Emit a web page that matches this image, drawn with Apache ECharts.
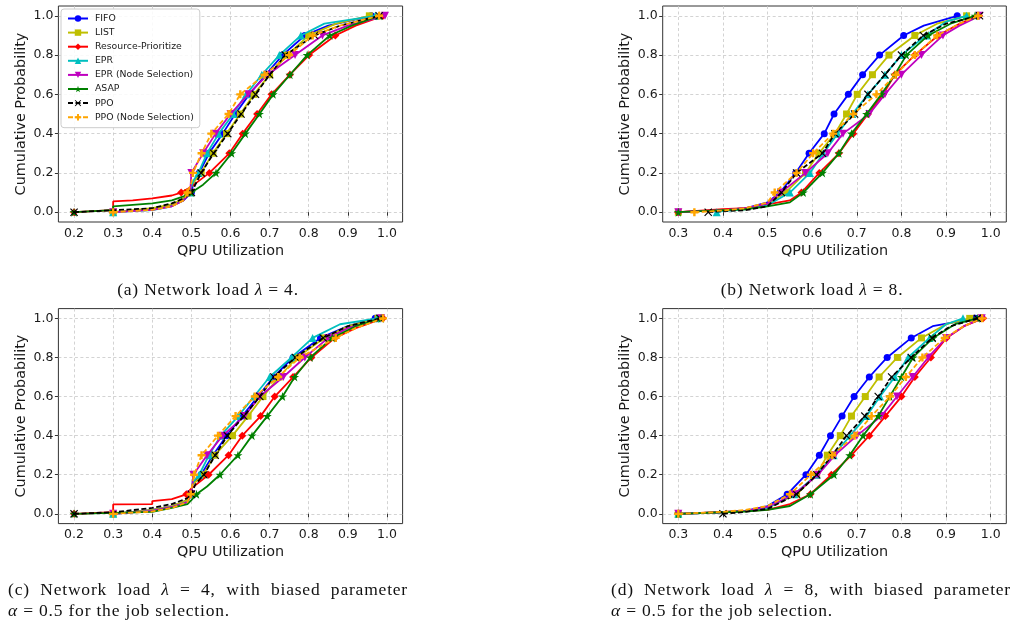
<!DOCTYPE html>
<html>
<head>
<meta charset="UTF-8">
<script src="https://cdn.jsdelivr.net/npm/echarts@6/dist/echarts.min.js"></script>
<style>
    body { margin: 0; padding: 0; background: #fff; }
    #main { position: absolute; left: 0; top: 0; width: 1018px; height: 628px; }
    .cap { position: absolute; width: 400px; font-family: "Liberation Serif", serif; font-size: 17.5px; line-height: 21px; color: #111; letter-spacing: 0.8px; }
    .cap.c { text-align: center; }
    .cap .j { text-align: justify; text-align-last: justify; }
    .cap i { font-style: italic; }
</style>
</head>
<body>
<div id="main"></div>
<div class="cap c" style="left:8px;top:279px;">(a) Network load <i>λ</i> = 4.</div>
<div class="cap c" style="left:612px;top:279px;">(b) Network load <i>λ</i> = 8.</div>
<div class="cap" style="left:8px;top:579px;"><div class="j">(c) Network load <i>λ</i> = 4, with biased parameter</div><div><i>α</i> = 0.5 for the job selection.</div></div>
<div class="cap" style="left:611px;top:579px;"><div class="j">(d) Network load <i>λ</i> = 8, with biased parameter</div><div><i>α</i> = 0.5 for the job selection.</div></div>
<script>
    var names = ['FIFO', 'LIST', 'Resource-Prioritize', 'EPR', 'EPR (Node Selection)', 'ASAP', 'PPO', 'PPO (Node Selection)']
    var colors = ['#0000ff', '#bfbf00', '#ff0000', '#00bfbf', '#bf00bf', '#008000', '#000000', '#ffa500']
    var xTicks1 = [0.2, 0.3, 0.4, 0.5, 0.6, 0.7, 0.8, 0.9, 1.0]
    var xTicks2 = [0.3, 0.4, 0.5, 0.6, 0.7, 0.8, 0.9, 1.0]
    var yTicks = [0, 0.2, 0.4, 0.6, 0.8, 1.0]

    // (a) lambda = 4 : [utilization, cumulative probability]
    var lam4 = [
        [[0.3,0],[0.3,0.008],[0.4,0.015],[0.45,0.035],[0.48,0.06],[0.5,0.1],[0.505,0.15],[0.52,0.2],[0.545,0.3],[0.58,0.4],[0.612,0.5],[0.648,0.6],[0.69,0.7],[0.733,0.8],[0.79,0.9],[0.85,0.95],[0.96,1.0]],
        [[0.3,0],[0.3,0.008],[0.4,0.02],[0.45,0.04],[0.48,0.07],[0.49,0.1],[0.505,0.15],[0.525,0.2],[0.555,0.3],[0.59,0.4],[0.625,0.5],[0.66,0.6],[0.7,0.7],[0.745,0.8],[0.8,0.9],[0.87,0.96],[0.955,1.0]],
        [[0.2,0],[0.3,0.01],[0.3,0.055],[0.35,0.06],[0.4,0.07],[0.45,0.085],[0.474,0.1],[0.5,0.13],[0.546,0.2],[0.597,0.3],[0.631,0.4],[0.668,0.5],[0.705,0.6],[0.752,0.7],[0.801,0.8],[0.868,0.9],[0.92,0.95],[0.99,1.0]],
        [[0.3,0],[0.3,0.005],[0.4,0.01],[0.45,0.03],[0.48,0.06],[0.495,0.1],[0.505,0.16],[0.518,0.2],[0.54,0.3],[0.57,0.4],[0.607,0.5],[0.64,0.6],[0.68,0.7],[0.725,0.8],[0.78,0.9],[0.84,0.96],[0.97,1.0]],
        [[0.3,0],[0.3,0.006],[0.4,0.012],[0.45,0.03],[0.48,0.06],[0.497,0.1],[0.5,0.2],[0.53,0.3],[0.562,0.4],[0.6,0.5],[0.645,0.6],[0.695,0.7],[0.765,0.8],[0.835,0.9],[0.9,0.95],[0.995,1.0]],
        [[0.2,0],[0.3,0.01],[0.3,0.03],[0.4,0.045],[0.45,0.06],[0.48,0.08],[0.5,0.1],[0.53,0.14],[0.563,0.2],[0.603,0.3],[0.638,0.4],[0.674,0.5],[0.709,0.6],[0.752,0.7],[0.796,0.8],[0.854,0.9],[0.91,0.95],[0.98,1.0]],
        [[0.2,0],[0.3,0.01],[0.3,0.015],[0.4,0.02],[0.45,0.045],[0.48,0.07],[0.5,0.1],[0.51,0.14],[0.525,0.2],[0.557,0.3],[0.593,0.4],[0.627,0.5],[0.664,0.6],[0.7,0.7],[0.74,0.8],[0.815,0.9],[0.88,0.95],[0.98,1.0]],
        [[0.3,0],[0.3,0.006],[0.4,0.012],[0.45,0.03],[0.48,0.06],[0.49,0.1],[0.5,0.15],[0.504,0.2],[0.526,0.3],[0.551,0.4],[0.595,0.5],[0.625,0.6],[0.687,0.7],[0.75,0.8],[0.81,0.9],[0.88,0.95],[0.98,1.0]]
    ]

    // (b) lambda = 8
    var lam8 = [
        [[0.3,0],[0.3,0.005],[0.4,0.01],[0.45,0.02],[0.5,0.05],[0.528,0.1],[0.563,0.2],[0.593,0.3],[0.627,0.4],[0.649,0.5],[0.681,0.6],[0.713,0.7],[0.751,0.8],[0.805,0.9],[0.85,0.95],[0.925,1.0]],
        [[0.3,0],[0.3,0.005],[0.4,0.01],[0.45,0.02],[0.5,0.04],[0.54,0.1],[0.585,0.2],[0.615,0.3],[0.651,0.4],[0.677,0.5],[0.701,0.6],[0.735,0.7],[0.772,0.8],[0.83,0.9],[0.88,0.96],[0.946,1.0]],
        [[0.3,0],[0.3,0.008],[0.4,0.015],[0.45,0.02],[0.5,0.04],[0.55,0.06],[0.576,0.1],[0.616,0.2],[0.66,0.3],[0.692,0.4],[0.725,0.5],[0.759,0.6],[0.785,0.7],[0.83,0.8],[0.882,0.9],[0.93,0.96],[0.974,1.0]],
        [[0.386,0],[0.4,0.005],[0.45,0.015],[0.5,0.035],[0.55,0.1],[0.595,0.2],[0.625,0.3],[0.657,0.4],[0.69,0.5],[0.725,0.6],[0.763,0.7],[0.8,0.8],[0.855,0.9],[0.9,0.97],[0.946,1.0]],
        [[0.3,0],[0.3,0.005],[0.4,0.01],[0.45,0.02],[0.5,0.045],[0.53,0.1],[0.585,0.2],[0.635,0.3],[0.669,0.4],[0.728,0.5],[0.763,0.6],[0.8,0.7],[0.845,0.8],[0.893,0.9],[0.93,0.95],[0.975,1.0]],
        [[0.3,0],[0.3,0.005],[0.4,0.01],[0.45,0.015],[0.5,0.03],[0.55,0.05],[0.58,0.1],[0.623,0.2],[0.66,0.3],[0.688,0.4],[0.722,0.5],[0.755,0.6],[0.785,0.7],[0.811,0.8],[0.86,0.9],[0.91,0.96],[0.965,1.0]],
        [[0.367,0],[0.4,0.005],[0.45,0.01],[0.5,0.03],[0.531,0.1],[0.565,0.2],[0.623,0.3],[0.651,0.4],[0.695,0.5],[0.725,0.6],[0.763,0.7],[0.8,0.8],[0.849,0.9],[0.9,0.96],[0.975,1.0]],
        [[0.336,0],[0.4,0.008],[0.45,0.02],[0.5,0.05],[0.516,0.1],[0.565,0.2],[0.602,0.3],[0.647,0.4],[0.692,0.5],[0.744,0.6],[0.787,0.7],[0.83,0.8],[0.88,0.9],[0.93,0.96],[0.972,1.0]]
    ]

    // (c) lambda = 4, alpha = 0.5
    var lam4b = [
        [[0.3,0],[0.3,0.008],[0.4,0.02],[0.45,0.04],[0.49,0.07],[0.5,0.1],[0.502,0.15],[0.525,0.2],[0.555,0.3],[0.59,0.4],[0.63,0.5],[0.67,0.6],[0.71,0.7],[0.76,0.8],[0.83,0.9],[0.9,0.96],[0.97,1.0]],
        [[0.3,0],[0.3,0.008],[0.4,0.02],[0.45,0.04],[0.49,0.07],[0.5,0.1],[0.503,0.15],[0.53,0.2],[0.56,0.3],[0.605,0.4],[0.645,0.5],[0.683,0.6],[0.724,0.7],[0.77,0.8],[0.84,0.9],[0.9,0.96],[0.977,1.0]],
        [[0.2,0],[0.3,0.008],[0.3,0.048],[0.4,0.05],[0.4,0.065],[0.45,0.075],[0.487,0.1],[0.5,0.13],[0.544,0.2],[0.595,0.3],[0.63,0.4],[0.677,0.5],[0.713,0.6],[0.76,0.7],[0.807,0.8],[0.867,0.9],[0.92,0.95],[0.99,1.0]],
        [[0.3,0],[0.3,0.006],[0.4,0.015],[0.45,0.035],[0.49,0.06],[0.5,0.1],[0.503,0.16],[0.52,0.2],[0.545,0.3],[0.575,0.4],[0.62,0.5],[0.66,0.6],[0.7,0.7],[0.756,0.8],[0.81,0.9],[0.88,0.97],[0.975,1.0]],
        [[0.3,0],[0.3,0.006],[0.4,0.015],[0.45,0.035],[0.49,0.06],[0.5,0.1],[0.505,0.2],[0.54,0.3],[0.58,0.4],[0.636,0.5],[0.675,0.6],[0.735,0.7],[0.79,0.8],[0.85,0.9],[0.9,0.95],[0.985,1.0]],
        [[0.2,0],[0.3,0.005],[0.4,0.01],[0.45,0.03],[0.49,0.05],[0.5,0.07],[0.513,0.1],[0.54,0.14],[0.573,0.2],[0.619,0.3],[0.655,0.4],[0.694,0.5],[0.733,0.6],[0.764,0.7],[0.804,0.8],[0.86,0.9],[0.92,0.96],[0.985,1.0]],
        [[0.2,0],[0.3,0.008],[0.3,0.012],[0.4,0.03],[0.45,0.05],[0.49,0.08],[0.5,0.1],[0.51,0.15],[0.532,0.2],[0.561,0.3],[0.592,0.4],[0.634,0.5],[0.675,0.6],[0.711,0.7],[0.766,0.8],[0.837,0.9],[0.9,0.96],[0.982,1.0]],
        [[0.3,0],[0.3,0.005],[0.4,0.012],[0.45,0.03],[0.49,0.06],[0.498,0.1],[0.507,0.2],[0.526,0.3],[0.568,0.4],[0.613,0.5],[0.662,0.6],[0.722,0.7],[0.777,0.8],[0.869,0.9],[0.92,0.95],[0.99,1.0]]
    ]

    // (d) lambda = 8, alpha = 0.5
    var lam8b = [
        [[0.3,0],[0.3,0.004],[0.4,0.008],[0.45,0.015],[0.5,0.04],[0.544,0.1],[0.586,0.2],[0.616,0.3],[0.641,0.4],[0.667,0.5],[0.694,0.6],[0.728,0.7],[0.768,0.8],[0.822,0.9],[0.87,0.96],[0.966,1.0]],
        [[0.3,0],[0.3,0.004],[0.4,0.008],[0.45,0.015],[0.5,0.03],[0.565,0.1],[0.61,0.2],[0.634,0.3],[0.663,0.4],[0.688,0.5],[0.719,0.6],[0.75,0.7],[0.791,0.8],[0.845,0.9],[0.9,0.97],[0.953,1.0]],
        [[0.3,0],[0.3,0.005],[0.4,0.01],[0.45,0.015],[0.5,0.02],[0.55,0.05],[0.596,0.1],[0.643,0.2],[0.688,0.3],[0.728,0.4],[0.764,0.5],[0.8,0.6],[0.83,0.7],[0.866,0.8],[0.901,0.9],[0.94,0.96],[0.983,1.0]],
        [[0.3,0],[0.3,0.004],[0.4,0.008],[0.45,0.015],[0.5,0.03],[0.56,0.1],[0.61,0.2],[0.648,0.3],[0.685,0.4],[0.722,0.5],[0.752,0.6],[0.785,0.7],[0.815,0.8],[0.863,0.9],[0.9,0.97],[0.938,1.0]],
        [[0.3,0],[0.3,0.004],[0.4,0.008],[0.45,0.015],[0.5,0.035],[0.56,0.1],[0.613,0.2],[0.651,0.3],[0.7,0.4],[0.755,0.5],[0.79,0.6],[0.825,0.7],[0.86,0.8],[0.9,0.9],[0.94,0.96],[0.98,1.0]],
        [[0.3,0],[0.3,0.004],[0.4,0.008],[0.45,0.012],[0.5,0.02],[0.55,0.04],[0.596,0.1],[0.649,0.2],[0.684,0.3],[0.714,0.4],[0.748,0.5],[0.774,0.6],[0.8,0.7],[0.826,0.8],[0.871,0.9],[0.92,0.97],[0.97,1.0]],
        [[0.4,0],[0.45,0.01],[0.5,0.025],[0.565,0.1],[0.61,0.2],[0.645,0.3],[0.677,0.4],[0.718,0.5],[0.748,0.6],[0.778,0.7],[0.822,0.8],[0.869,0.9],[0.91,0.96],[0.97,1.0]],
        [[0.3,0],[0.3,0.005],[0.4,0.01],[0.45,0.02],[0.5,0.04],[0.55,0.1],[0.597,0.2],[0.645,0.3],[0.695,0.4],[0.733,0.5],[0.774,0.6],[0.81,0.7],[0.847,0.8],[0.897,0.9],[0.94,0.96],[0.981,1.0]]
    ]

    var panels = [lam4, lam8, lam4b, lam8b]

    var chart = echarts.init(document.getElementById('main'))

    var symbols = [
        'circle',
        'rect',
        'diamond',
        'triangle',
        'path://M-10,-8.66L10,-8.66L0,8.66Z',
        'path://M0,-10L2.23,-3.07L9.51,-3.09L3.61,1.17L5.88,8.09L0,3.8L-5.88,8.09L-3.61,1.17L-9.51,-3.09L-2.23,-3.07Z',
        'path://M-10,-8L-8,-10L0,-2L8,-10L10,-8L2,0L10,8L8,10L0,2L-8,10L-10,8L-2,0Z',
        'path://M-3,-10H3V-3H10V3H3V10H-3V3H-10V-3H-3Z'
    ]
    var symSizes = [7, 7, 8, 8, 8, 9, 8, 8]
    var dashed = [false, false, false, false, false, false, true, true]

    // grid boxes (px) - left column / right column, top row / bottom row
    var boxes = [
        {left: 58.4, top: 6, width: 344.2, height: 216},
        {left: 662.7, top: 6, width: 343.6, height: 216},
        {left: 58.4, top: 308.6, width: 344.2, height: 215},
        {left: 662.7, top: 308.6, width: 343.6, height: 215}
    ]
    var xRanges = [[0.16, 1.04], [0.265, 1.035], [0.16, 1.04], [0.265, 1.035]]
    var xTickSets = [xTicks1, xTicks2, xTicks1, xTicks2]

    var tickFont = {fontFamily: 'DejaVu Sans', fontSize: 12.5, color: '#1a1a1a'}
    var nameFont = {fontFamily: 'DejaVu Sans', fontSize: 14.4, color: '#1a1a1a'}
    var splitStyle = {color: '#c8c8c8', width: 0.8, type: [3, 2.5]}

    var grids = [], xAxes = [], yAxes = [], series = []
    boxes.forEach(function (b, p) {
        grids.push({left: b.left, top: b.top, width: b.width, height: b.height,
            show: true, borderColor: '#333', borderWidth: 1, backgroundColor: 'transparent'})
        xAxes.push({
            type: 'value', gridIndex: p, min: xRanges[p][0], max: xRanges[p][1],
            name: 'QPU Utilization', nameLocation: 'middle', nameGap: 22,
            nameTextStyle: nameFont,
            axisLine: {show: false},
            axisTick: {show: true, length: 3.5, lineStyle: {color: '#333'}, customValues: xTickSets[p]},
            axisLabel: Object.assign({margin: 5, customValues: xTickSets[p],
                formatter: function (v) { return v.toFixed(1) }}, tickFont),
            splitLine: {show: true, lineStyle: splitStyle}
        })
        yAxes.push({
            type: 'value', gridIndex: p, min: -0.05, max: 1.05,
            name: 'Cumulative Probability', nameLocation: 'middle', nameGap: 30,
            nameTextStyle: nameFont,
            axisLine: {show: false},
            axisTick: {show: true, length: 3.5, lineStyle: {color: '#333'}, customValues: yTicks},
            axisLabel: Object.assign({margin: 5, customValues: yTicks,
                formatter: function (v) { return v.toFixed(1) }}, tickFont),
            splitLine: {show: true, lineStyle: splitStyle}
        })
        panels[p].forEach(function (pts, i) {
            series.push({
                type: 'line', name: names[i], xAxisIndex: p, yAxisIndex: p,
                data: pts,
                symbol: symbols[i],
                symbolSize: function (v) {
                    var k = v[1] * 10
                    return Math.abs(k - Math.round(k)) < 1e-6 ? symSizes[i] : 0
                },
                showAllSymbol: true,
                clip: false,
                itemStyle: {color: colors[i]},
                lineStyle: {color: colors[i], width: 1.8, type: dashed[i] ? [5, 2.5] : 'solid'},
                emphasis: {disabled: true},
                z: 2 + i
            })
        })
    })

    chart.setOption({
        animation: false,
        grid: grids,
        xAxis: xAxes,
        yAxis: yAxes,
        legend: {
            data: names, orient: 'vertical', left: 61, top: 9,
            padding: [4, 6, 5, 6], itemGap: 3.1, itemWidth: 20, itemHeight: 8,
            backgroundColor: 'rgba(255,255,255,0.85)', borderColor: '#cccccc', borderWidth: 1, borderRadius: 3,
            textStyle: {fontFamily: 'DejaVu Sans', fontSize: 9.3, color: '#1a1a1a', lineHeight: 11, padding: [0, 0, 0, 2]},
            selectedMode: false
        },
        series: series
    })
</script>
</body>
</html>
